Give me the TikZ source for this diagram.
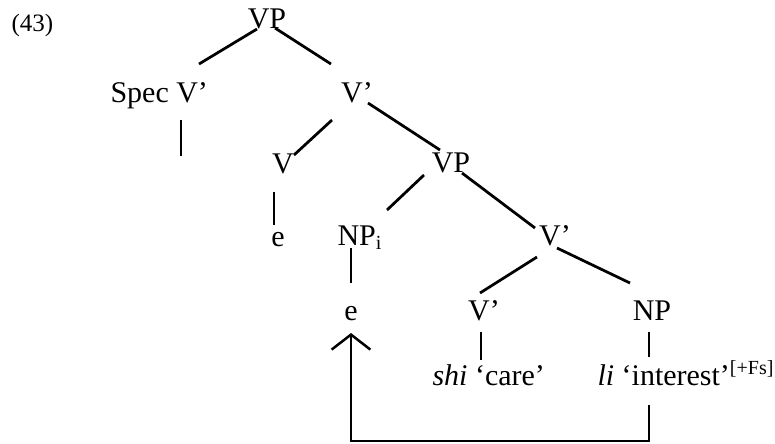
\documentclass[tikz,border=0pt]{standalone}
\usepackage{fontspec}
\setmainfont{Liberation Serif}
\usetikzlibrary{arrows.meta,calc}

\begin{document}
\begin{tikzpicture}[
  x=0.4pt, y=-0.4pt,
  lbl/.style={inner sep=0pt, anchor=base, font=\fontsize{12pt}{14pt}\selectfont},
  br/.style={line width=1.1pt},
  vl/.style={line width=0.65pt},
  arr/.style={line width=0.8pt, -{Straight Barb[length=6pt, width=15.5pt, line width=1pt]}},
]
\useasboundingbox (0,0) rectangle (775,443);
% labels
\node[lbl, anchor=base west, font=\fontsize{10pt}{12pt}\selectfont] (ex) at (11,31) {(43)};
\node[lbl] (vp)    at (267,28)  {VP};
\node[lbl, anchor=base west] (specv) at (110,102) {Spec V'};
\node[lbl] (vbar)  at (357,102) {V'};
\node[lbl] (v)     at (283,173) {V};
\node[lbl] (vp2)   at (451,172) {VP};
\node[lbl] (e1)    at (278,246) {e};
\node[lbl, anchor=base west] (npi) at (337,245) {NP\textsubscript{i}};
\node[lbl] (vbar2) at (555,245) {V'};
\node[lbl] (e2)    at (351,320) {e};
\node[lbl] (vbar3) at (484,320) {V'};
\node[lbl] (np)    at (652,320) {NP};
\node[lbl, anchor=base west] (shi) at (432,385) {\textit{shi} `care'};
\node[lbl, anchor=base west] (li)  at (597,385) {\textit{li} `interest'\textsuperscript{[+Fs]}};
\coordinate (spec-t) at ($(specv.base west)+(71,54)$);

% branches
\draw[br] ($(vp.base)+(-10,1)$)     -- ($(specv.base west)+(89,-38)$);
\draw[br] ($(vp.base)+(8,0)$)       -- ($(vbar.base)+(-26,-38)$);
\draw[vl] ($(specv.base west)+(71,18)$) -- (spec-t);
\draw[br] ($(vbar.base)+(-25,18)$)  -- ($(v.base)+(11,-18)$);
\draw[br] ($(vbar.base)+(11,1)$)    -- ($(vp2.base)+(-11,-22)$);
\draw[vl] ($(v.base)+(-9,19)$)      -- ($(e1.base)+(-4,-21)$);
\draw[br] ($(vp2.base)+(-27,3)$)    -- ($(npi.base west)+(50,-35)$);
\draw[br] ($(vp2.base)+(11,1)$)     -- ($(vbar2.base)+(-20,-17)$);
\draw[vl] ($(npi.base west)+(14,3)$) -- ($(e2.base)+(0,-37)$);
\draw[br] ($(vbar2.base)+(-18,12)$) -- ($(vbar3.base)+(-4,-27)$);
\draw[br] ($(vbar2.base)+(2,3)$)    -- ($(np.base)+(-22,-37)$);
\draw[vl] ($(vbar3.base)+(-3,12)$)  -- ($(shi.base west)+(49,-25)$);
\draw[vl] ($(np.base)+(-3,12)$)     -- ($(li.base west)+(52,-28)$);

% movement
\draw[arr] ($(li.base west)+(52,20)$) -- ++(0,36) -| ($(e2.base)+(0,13)$);
\end{tikzpicture}
\end{document}
